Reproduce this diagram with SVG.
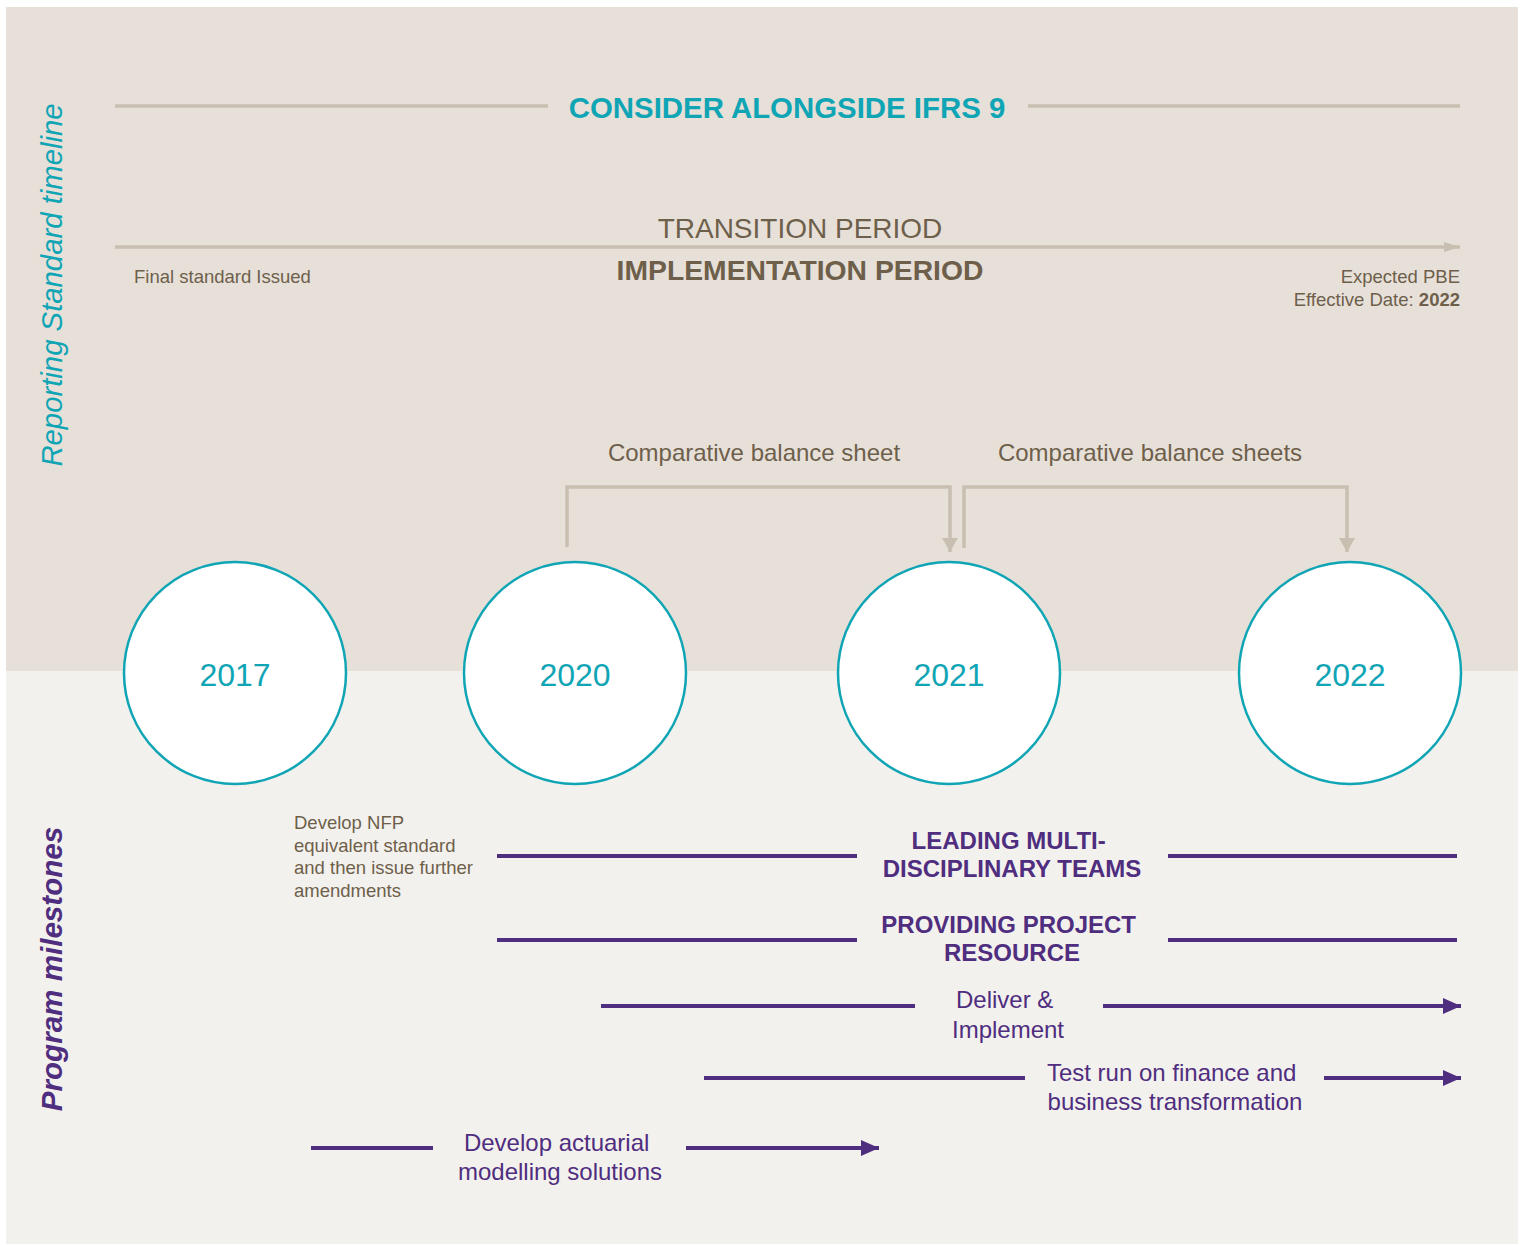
<svg xmlns="http://www.w3.org/2000/svg" width="1521" height="1245" viewBox="0 0 1521 1245">
  <style>
    text { font-family: "Liberation Sans", Arial, sans-serif; }
    .brown { fill: #6e5f4b; }
    .teal { fill: #10a5b5; }
    .purple { fill: #4f2d7f; }
    .gline { stroke: #c8bfb1; stroke-width: 3.5; fill: none; }
    .pline { stroke: #4f2d7f; stroke-width: 4; fill: none; }
    .ring { fill: #ffffff; stroke: #10a5b5; stroke-width: 2.5; }
    .year { font-size: 32px; fill: #10a5b5; text-anchor: middle; }
    .mid { text-anchor: middle; }
  </style>
  <defs>
    <marker id="grayHead" markerUnits="userSpaceOnUse" markerWidth="16" markerHeight="12" refX="16" refY="6" orient="auto">
      <path d="M0,1 L16,6 L0,11 Z" fill="#c8bfb1"/>
    </marker>
    <marker id="grayDown" markerUnits="userSpaceOnUse" markerWidth="16" markerHeight="16" refX="14" refY="8" orient="auto">
      <path d="M0,0 L14,8 L0,16 Z" fill="#c8bfb1"/>
    </marker>
    <marker id="purpleHead" markerUnits="userSpaceOnUse" markerWidth="18" markerHeight="16" refX="18" refY="8" orient="auto">
      <path d="M0,0 L18,8 L0,16 Z" fill="#4f2d7f"/>
    </marker>
  </defs>

  <!-- page background -->
  <rect x="0" y="0" width="1521" height="1245" fill="#ffffff"/>
  <rect x="6" y="7" width="1512" height="664" fill="#e7e0d9"/>
  <rect x="6" y="671" width="1512" height="573" fill="#f3f1ed"/>

  <!-- side headings -->
  <text class="teal" font-size="29.3" font-style="italic" text-anchor="middle" transform="translate(62,285) rotate(-90)">Reporting Standard timeline</text>
  <text class="purple" font-size="29.6" font-style="italic" font-weight="bold" text-anchor="middle" transform="translate(62,969) rotate(-90)">Program milestones</text>

  <!-- reporting standard timeline -->
  <g id="ifrs9-band">
    <line class="gline" x1="115" y1="106" x2="548" y2="106"/>
    <line class="gline" x1="1028" y1="106" x2="1460" y2="106"/>
    <text class="teal mid" x="787" y="118" font-size="29.4" font-weight="bold">CONSIDER ALONGSIDE IFRS 9</text>
  </g>

  <g id="transition-period">
    <text class="brown mid" x="800" y="238" font-size="28">TRANSITION PERIOD</text>
    <text class="brown mid" x="800" y="280" font-size="28.3" font-weight="bold">IMPLEMENTATION PERIOD</text>
    <text class="brown" x="134" y="283" font-size="18.5">Final standard Issued</text>
    <text class="brown" x="1460" y="283" font-size="18.5" text-anchor="end">Expected PBE</text>
    <text class="brown" x="1460" y="306" font-size="18.5" text-anchor="end">Effective Date: <tspan font-weight="bold">2022</tspan></text>
  </g>

  <g id="comparative-labels">
    <text class="brown mid" x="754" y="461" font-size="24">Comparative balance sheet</text>
    <text class="brown mid" x="1150" y="461" font-size="24">Comparative balance sheets</text>
  </g>

  <!-- connectors -->
  <g id="connectors">
    <line class="gline" x1="115" y1="247" x2="1460" y2="247" marker-end="url(#grayHead)"/>
    <path class="gline" d="M567,547 L567,487 L950,487 L950,552" marker-end="url(#grayDown)"/>
    <path class="gline" d="M964,548 L964,487 L1347,487 L1347,552" marker-end="url(#grayDown)"/>

    <line class="pline" x1="497" y1="856" x2="857" y2="856"/>
    <line class="pline" x1="1168" y1="856" x2="1457" y2="856"/>
    <line class="pline" x1="497" y1="940" x2="857" y2="940"/>
    <line class="pline" x1="1168" y1="940" x2="1457" y2="940"/>
    <line class="pline" x1="601" y1="1006" x2="915" y2="1006"/>
    <line class="pline" x1="1103" y1="1006" x2="1461" y2="1006" marker-end="url(#purpleHead)"/>
    <line class="pline" x1="704" y1="1078" x2="1025" y2="1078"/>
    <line class="pline" x1="1324" y1="1078" x2="1461" y2="1078" marker-end="url(#purpleHead)"/>
    <line class="pline" x1="311" y1="1148" x2="433" y2="1148"/>
    <line class="pline" x1="686" y1="1148" x2="879" y2="1148" marker-end="url(#purpleHead)"/>
  </g>

  <!-- year nodes -->
  <g id="year-2017">
    <circle class="ring" cx="235" cy="673" r="111"/>
    <text class="year" x="235" y="686">2017</text>
  </g>
  <g id="year-2020">
    <circle class="ring" cx="575" cy="673" r="111"/>
    <text class="year" x="575" y="686">2020</text>
  </g>
  <g id="year-2021">
    <circle class="ring" cx="949" cy="673" r="111"/>
    <text class="year" x="949" y="686">2021</text>
  </g>
  <g id="year-2022">
    <circle class="ring" cx="1350" cy="673" r="111"/>
    <text class="year" x="1350" y="686">2022</text>
  </g>

  <!-- program milestones -->
  <g id="nfp-standard">
    <text class="brown" font-size="18.5">
      <tspan x="294" y="829">Develop NFP</tspan>
      <tspan x="294" y="852">equivalent standard</tspan>
      <tspan x="294" y="874">and then issue further</tspan>
      <tspan x="294" y="897">amendments</tspan>
    </text>
  </g>
  <g id="leading-teams">
    <text class="purple mid" font-size="24" font-weight="bold">
      <tspan x="1012" y="849">LEADING MULTI-</tspan>
      <tspan x="1012" y="877">DISCIPLINARY TEAMS</tspan>
    </text>
  </g>
  <g id="project-resource">
    <text class="purple mid" font-size="24" font-weight="bold">
      <tspan x="1012" y="933">PROVIDING PROJECT</tspan>
      <tspan x="1012" y="961">RESOURCE</tspan>
    </text>
  </g>
  <g id="deliver-implement">
    <text class="purple mid" font-size="24">
      <tspan x="1008" y="1008">Deliver &amp;</tspan>
      <tspan x="1008" y="1038">Implement</tspan>
    </text>
  </g>
  <g id="test-run">
    <text class="purple mid" font-size="24">
      <tspan x="1175" y="1081">Test run on finance and</tspan>
      <tspan x="1175" y="1110">business transformation</tspan>
    </text>
  </g>
  <g id="actuarial-modelling">
    <text class="purple mid" font-size="24">
      <tspan x="560" y="1151">Develop actuarial</tspan>
      <tspan x="560" y="1180">modelling solutions</tspan>
    </text>
  </g>
</svg>
